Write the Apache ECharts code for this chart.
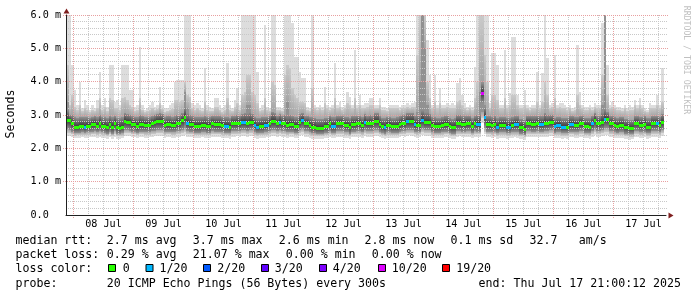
<!DOCTYPE html>
<html>
<head>
<meta charset="utf-8">
<script src="https://cdn.jsdelivr.net/npm/echarts@6.0.0/dist/echarts.min.js"></script>
<style>
html,body{margin:0;padding:0;background:#ffffff;}
#chart{width:697px;height:297px;}
</style>
</head>
<body>
<div id="chart"></div>
<script>
// ---------------- data: hourly buckets from 07 Jul 21:00, values in ms ----------------
const dayLabels = ['08 Jul','09 Jul','10 Jul','11 Jul','12 Jul','13 Jul','14 Jul','15 Jul','16 Jul','17 Jul'];
const yTickLabels = ['0.0  ','1.0 m','2.0 m','3.0 m','4.0 m','5.0 m','6.0 m'];

const medianMs = [
2.85,2.85,2.75,2.65,2.65,2.66,2.67,2.65,2.68,2.68,2.72,2.73,2.68,2.75,2.68,2.67,2.63,2.73,2.63,2.75,
2.63,2.62,2.64,2.83,2.8,2.8,2.73,2.73,2.67,2.73,2.73,2.7,2.7,2.7,2.75,2.78,2.83,2.83,2.83,2.7,
2.73,2.73,2.7,2.7,2.77,2.77,2.85,2.93,2.77,2.73,2.73,2.68,2.68,2.68,2.7,2.7,2.68,2.68,2.75,2.73,
2.72,2.72,2.69,2.68,2.68,2.65,2.75,2.75,2.75,2.75,2.79,2.79,2.75,2.78,2.78,2.7,2.65,2.68,2.68,2.7,
2.7,2.75,2.83,2.83,2.75,2.8,2.75,2.75,2.69,2.73,2.73,2.68,2.68,2.8,2.85,2.75,2.75,2.7,2.65,2.65,
2.62,2.62,2.62,2.67,2.67,2.75,2.68,2.68,2.75,2.75,2.75,2.7,2.7,2.63,2.72,2.72,2.75,2.75,2.7,2.8,
2.75,2.75,2.75,2.83,2.83,2.72,2.67,2.63,2.7,2.7,2.67,2.67,2.67,2.73,2.77,2.77,2.82,2.83,2.83,2.73,
2.7,2.7,2.85,2.8,2.8,2.8,2.7,2.67,2.67,2.67,2.7,2.73,2.73,2.67,2.63,2.63,2.77,2.77,2.73,2.73,
2.75,2.75,2.67,2.75,2.73,2.73,3.65,2.93,2.73,2.73,2.7,2.73,2.65,2.7,2.7,2.7,2.65,2.65,2.7,2.72,
2.72,2.63,2.63,2.57,2.75,2.75,2.72,2.72,2.75,2.73,2.73,2.75,2.75,2.78,2.78,2.67,2.7,2.7,2.65,2.65,
2.65,2.73,2.73,2.7,2.7,2.75,2.75,2.67,2.67,2.65,2.75,2.85,2.75,2.75,2.8,2.89,2.87,2.75,2.75,2.7,
2.67,2.7,2.7,2.63,2.63,2.6,2.6,2.75,2.75,2.7,2.7,2.73,2.65,2.65,2.75,2.75,2.75,2.7,2.8
];

const maxPing = [
6,6,4.5,3.75,3.3,4,3.2,3.45,3.3,3.15,3.3,3.2,3.45,4.3,3.3,3.5,3.25,4.5,4.5,3.4,
3.45,3.3,4.5,4.5,4.5,3.75,3.75,3.25,3.3,5.05,3.3,3.15,3.2,3.3,3.4,3.25,3.3,3.85,3.3,3.2,
3.2,3.3,3.35,4,4.05,4.05,4.05,6,6,6,3.35,3.3,3.35,3.3,3.2,4.4,3.3,3.25,3.2,3.5,
3.5,3.3,3.2,3.3,4.55,3.3,3.2,3.45,3.8,3.3,6,6,6,6,6,6,4.3,3.2,3.3,5.7,
3.25,3.2,6,6,3.25,3.25,3.2,6,6,6,5.75,4.75,4.75,4.3,4.1,4.1,3.25,3.2,6,3.3,
3.25,3.3,3.25,3.85,3.3,3.25,3.3,4.55,3.3,3.4,3.25,3.3,3.7,3.55,3.3,4.95,3.3,3.6,3.3,3.35,
3.35,3.5,3.5,3.3,3.3,3.5,3.25,3.25,3.2,3.3,3.3,3.3,3.3,3.25,3.3,3.3,3.35,3.3,3.35,3.4,
6,6,6,6,5.25,4.2,3.3,4.2,3.3,3.8,3.3,3.3,3.35,3.3,3.35,3.3,3.95,4.1,3.6,3.35,
3.25,3.3,3.25,4.45,6,6,6,6,6,3.35,4.85,4.85,4.5,3.3,3.3,4.95,3.3,3.65,5.35,5.35,
3.6,3.3,3.3,3.75,3.3,3.25,3.3,3.3,4.3,3.3,4.25,6,4.7,3.3,3.35,4.8,3.3,3.35,3.35,3.3,
3.25,3.3,3.2,3.25,5.1,3.7,3.3,3.25,3.25,3.3,3.25,3.35,3.3,3.3,5.75,6,4.5,3.3,3.4,3.3,
3.25,3.25,3.2,3.3,3.2,3.3,3.25,3.45,3.3,3.5,3.3,3.2,3.15,3.35,3.3,3.3,3.6,3.3,4.4
];

const hiOuter = [
4.5,3.3,3.6,3.25,3.15,3.3,3.12,3.2,3.15,3.1,3.15,3.12,3.2,3.5,3.15,3.25,3.12,3.5,3.45,3.2,
3.2,3.15,3.5,3.55,3.45,3.3,3.25,3.12,3.15,3.5,3.15,3.1,3.12,3.15,3.2,3.15,3.18,3.35,3.18,3.1,
3.12,3.15,3.18,3.45,3.45,3.4,3.45,4,3.6,3.55,3.2,3.15,3.2,3.15,3.12,3.4,3.15,3.12,3.12,3.25,
3.25,3.15,3.1,3.15,3.5,3.15,3.12,3.25,3.35,3.15,3.6,3.7,4.2,4.2,3.7,3.6,3.35,3.12,3.15,3.5,
3.15,3.12,4,3.9,3.15,3.15,3.12,4.2,4.5,4.4,3.8,3.6,3.5,3.4,3.4,3.35,3.15,3.12,3.8,3.2,
3.15,3.2,3.15,3.35,3.2,3.15,3.2,3.5,3.2,3.25,3.15,3.2,3.35,3.3,3.2,3.5,3.2,3.3,3.2,3.2,
3.25,3.3,3.3,3.2,3.2,3.3,3.15,3.15,3.12,3.2,3.2,3.2,3.2,3.15,3.2,3.2,3.25,3.2,3.25,3.25,
4.8,6,6,6,4,3.5,3.2,3.4,3.2,3.35,3.2,3.2,3.25,3.2,3.2,3.2,3.4,3.45,3.3,3.2,
3.15,3.2,3.15,3.5,4,6,6,4.8,4,3.2,3.6,3.6,3.45,3.2,3.2,3.5,3.2,3.3,3.6,3.6,
3.3,3.2,3.2,3.3,3.2,3.15,3.2,3.2,3.4,3.2,3.4,4,3.6,3.2,3.25,3.5,3.2,3.25,3.2,3.2,
3.15,3.2,3.12,3.15,3.6,3.3,3.2,3.15,3.15,3.2,3.15,3.25,3.2,3.2,4.2,6,3.6,3.2,3.25,3.2,
3.15,3.15,3.12,3.2,3.12,3.15,3.15,3.3,3.2,3.3,3.2,3.12,3.1,3.2,3.2,3.2,3.3,3.2,3.4
];

const hiInner = [
3.4,3,3,2.95,2.92,2.95,2.93,2.95,2.93,2.92,2.95,2.96,2.93,3,2.94,2.95,2.9,2.98,2.95,2.97,
2.92,2.9,2.95,3.05,3.02,3,2.97,2.95,2.93,3,2.97,2.94,2.94,2.95,2.98,3,3.03,3.05,3.02,2.94,
2.96,2.97,2.95,2.97,3,3,3.05,3.7,3.2,3,2.97,2.93,2.93,2.93,2.95,2.97,2.93,2.93,2.97,2.97,
2.96,2.96,2.93,2.93,2.95,2.9,2.97,2.98,2.99,2.98,3.02,3.05,3.3,3.3,3.02,2.95,2.92,2.92,2.93,2.95,
2.94,2.98,3.1,3.05,2.98,3.02,2.98,3,3.4,3,2.98,2.95,2.93,3.02,3.07,2.98,2.98,2.93,2.95,2.9,
2.88,2.88,2.88,2.92,2.92,2.98,2.93,2.95,2.98,2.98,2.98,2.95,2.95,2.9,2.96,2.98,2.98,2.98,2.95,3.03,
2.98,3,2.98,3.05,3.05,2.96,2.92,2.9,2.94,2.95,2.92,2.92,2.93,2.97,3,3,3.05,3.05,3.05,2.98,
3.1,4,6,5,3.3,3.02,2.95,2.93,2.92,2.92,2.94,2.97,2.97,2.92,2.88,2.9,3,3,2.97,2.97,
2.98,2.98,2.92,2.98,3,3.7,4,3.3,2.98,2.97,2.95,2.97,2.9,2.94,2.94,2.95,2.9,2.9,2.95,2.96,
2.96,2.88,2.88,2.85,2.98,2.98,2.96,2.96,2.98,2.97,2.97,3.05,3,3,3,2.92,2.94,2.94,2.9,2.9,
2.9,2.97,2.97,2.94,2.95,2.98,2.98,2.92,2.92,2.9,2.98,3.05,2.98,2.98,3.3,6,3.08,2.98,2.98,2.94,
2.92,2.94,2.94,2.88,2.88,2.85,2.86,2.98,2.98,2.94,2.94,2.96,2.9,2.9,2.98,2.98,2.98,2.94,3.03
];

const loInner = [
2.58,2.56,2.5,2.45,2.46,2.47,2.48,2.46,2.48,2.49,2.5,2.52,2.48,2.52,2.48,2.47,2.44,2.5,2.44,2.52,
2.44,2.43,2.45,2.55,2.54,2.53,2.5,2.5,2.47,2.5,2.5,2.48,2.48,2.49,2.51,2.53,2.56,2.56,2.55,2.48,
2.5,2.5,2.48,2.48,2.52,2.52,2.56,2.6,2.52,2.5,2.5,2.47,2.47,2.47,2.48,2.48,2.47,2.47,2.52,2.5,
2.5,2.5,2.48,2.47,2.47,2.45,2.52,2.52,2.52,2.52,2.54,2.54,2.52,2.54,2.54,2.49,2.45,2.47,2.47,2.48,
2.48,2.52,2.56,2.56,2.52,2.55,2.52,2.52,2.48,2.5,2.5,2.47,2.47,2.55,2.57,2.52,2.52,2.48,2.45,2.45,
2.43,2.43,2.43,2.46,2.46,2.52,2.47,2.47,2.52,2.52,2.52,2.48,2.48,2.44,2.5,2.5,2.52,2.52,2.48,2.55,
2.52,2.52,2.52,2.56,2.56,2.5,2.46,2.44,2.48,2.48,2.46,2.46,2.46,2.5,2.53,2.53,2.56,2.56,2.56,2.5,
2.48,2.5,2.58,2.55,2.55,2.55,2.48,2.46,2.46,2.46,2.48,2.5,2.5,2.46,2.44,2.44,2.53,2.53,2.5,2.5,
2.52,2.52,2.46,2.52,2.5,2.5,3.1,2.6,2.5,2.5,2.48,2.5,2.45,2.48,2.48,2.48,2.45,2.45,2.48,2.49,
2.49,2.44,2.44,2.4,2.52,2.52,2.5,2.5,2.52,2.5,2.5,2.52,2.52,2.54,2.54,2.46,2.48,2.48,2.45,2.45,
2.45,2.5,2.5,2.48,2.48,2.52,2.52,2.46,2.46,2.45,2.52,2.58,2.52,2.52,2.55,2.6,2.6,2.52,2.52,2.48,
2.46,2.48,2.48,2.44,2.44,2.42,2.42,2.52,2.52,2.48,2.48,2.5,2.45,2.45,2.52,2.52,2.52,2.48,2.55
];

const loOuter = [
2.46,2.45,2.42,2.38,2.39,2.4,2.41,2.39,2.4,2.41,2.42,2.43,2.4,2.43,2.4,2.4,2.37,2.42,2.37,2.43,
2.37,2.36,2.38,2.46,2.45,2.45,2.42,2.42,2.4,2.42,2.42,2.4,2.4,2.41,2.43,2.44,2.46,2.47,2.46,2.4,
2.42,2.42,2.4,2.4,2.43,2.43,2.46,2.48,2.44,2.42,2.42,2.4,2.4,2.4,2.41,2.41,2.4,2.4,2.43,2.42,
2.42,2.42,2.4,2.4,2.4,2.38,2.43,2.43,2.44,2.44,2.45,2.45,2.44,2.45,2.45,2.41,2.38,2.4,2.4,2.41,
2.41,2.43,2.46,2.46,2.43,2.46,2.43,2.43,2.4,2.42,2.42,2.4,2.4,2.46,2.48,2.43,2.43,2.4,2.38,2.38,
2.36,2.36,2.36,2.39,2.39,2.43,2.4,2.4,2.43,2.43,2.43,2.4,2.4,2.37,2.42,2.42,2.43,2.43,2.4,2.46,
2.43,2.43,2.43,2.47,2.47,2.42,2.39,2.37,2.4,2.4,2.39,2.39,2.39,2.42,2.44,2.44,2.47,2.47,2.47,2.42,
2.4,2.42,2.48,2.46,2.46,2.46,2.4,2.39,2.39,2.39,2.4,2.42,2.42,2.39,2.37,2.37,2.44,2.44,2.42,2.42,
2.43,2.43,2.39,2.43,2.42,2.42,2.9,2.5,2.42,2.42,2.4,2.42,2.38,2.4,2.4,2.4,2.38,2.38,2.4,2.41,
2.41,2.37,2.37,2.33,2.43,2.43,2.42,2.42,2.43,2.42,2.42,2.43,2.43,2.45,2.45,2.39,2.4,2.4,2.38,2.38,
2.38,2.42,2.42,2.4,2.4,2.43,2.43,2.39,2.39,2.38,2.43,2.48,2.43,2.43,2.46,2.5,2.5,2.43,2.43,2.4,
2.39,2.4,2.4,2.37,2.37,2.35,2.35,2.43,2.43,2.4,2.4,2.42,2.38,2.38,2.43,2.43,2.43,2.4,2.46
];

const minPing = [
2.38,2.37,2.33,2.3,2.31,2.32,2.33,2.3,2.32,2.33,2.34,2.35,2.31,2.34,2.32,2.31,2.28,2.33,2.29,2.35,
2.28,2.28,2.3,2.37,2.36,2.36,2.34,2.33,2.31,2.34,2.34,2.32,2.32,2.33,2.35,2.36,2.38,2.38,2.37,2.31,
2.33,2.34,2.32,2.31,2.35,2.35,2.37,2.39,2.35,2.33,2.34,2.31,2.31,2.32,2.33,2.32,2.31,2.31,2.35,2.33,
2.34,2.33,2.31,2.31,2.32,2.29,2.35,2.35,2.36,2.35,2.37,2.36,2.35,2.37,2.36,2.32,2.29,2.31,2.31,2.32,
2.33,2.35,2.38,2.37,2.34,2.37,2.34,2.35,2.31,2.34,2.33,2.31,2.31,2.37,2.39,2.35,2.34,2.31,2.29,2.29,
2.27,2.27,2.28,2.3,2.31,2.35,2.31,2.32,2.35,2.34,2.35,2.31,2.32,2.28,2.33,2.34,2.35,2.34,2.31,2.37,
2.34,2.35,2.34,2.38,2.38,2.33,2.3,2.28,2.32,2.31,2.3,2.31,2.3,2.33,2.36,2.35,2.38,2.39,2.38,2.33,
2.31,2.33,2.39,2.37,2.38,2.37,2.31,2.3,2.31,2.3,2.32,2.34,2.33,2.3,2.28,2.29,2.35,2.36,2.33,2.34,
2.35,2.34,2.3,2.35,2.33,2.33,2.75,2.42,2.33,2.34,2.32,2.33,2.29,2.31,2.32,2.31,2.29,2.3,2.31,2.33,
2.32,2.28,2.29,2.25,2.35,2.34,2.33,2.34,2.35,2.33,2.34,2.35,2.34,2.37,2.36,2.3,2.32,2.31,2.29,2.3,
2.29,2.34,2.33,2.31,2.32,2.35,2.34,2.3,2.31,2.29,2.35,2.4,2.35,2.34,2.37,2.41,2.41,2.35,2.34,2.31,
2.3,2.31,2.32,2.28,2.29,2.26,2.27,2.35,2.34,2.31,2.32,2.33,2.29,2.3,2.35,2.34,2.35,2.31,2.38
];

// hours (bucket index) with packet loss, and lost pings out of 20
const lossHours  = [7,48,63,64,70,71,75,76,79,80,85,94,106,107,119,127,136,139,142,164,165,166,167,172,176,177,179,180,189,190,195,196,197,198,199,201,202,210,215,236];
const lossCounts = [1,1,1,1,1,1,1,1,1,1,1,1,1,1,1,1,1,1,1,1,1,10,1,1,1,1,1,1,1,1,1,1,1,1,1,1,1,1,1,1];

const lossLegendLabels = ['0','1/20','2/20','3/20','4/20','10/20','19/20'];
const lossThresholds   = [0,1,2,3,4,10,19];
const lossLegendColors = ['#26ff00','#00b8ff','#0059ff','#5e00ff','#7e00ff','#dd00ff','#ff0000'];

const statsRtt  = ['median rtt:','2.7 ms avg','3.7 ms max','2.6 ms min','2.8 ms now','0.1 ms sd','32.7','am/s'];
const statsLoss = ['packet loss:','0.29 % avg','21.07 % max','0.00 % min','0.00 % now'];
const probeText = ['probe:','20 ICMP Echo Pings (56 Bytes) every 300s'];
const endText   = 'end: Thu Jul 17 21:00:12 2025';
const yAxisTitle = 'Seconds';
const watermark  = 'RRDTOOL / TOBI OETIKER';

// ---------------- layout / style ----------------
const MONO = 'DejaVu Sans Mono';
const SPAN_HOURS = 240;           // 07 Jul 21:00 .. 17 Jul 21:00
const FIRST_MIDNIGHT = 3;         // 08 Jul 00:00
const RED = '#e8a0a0', GRAY = '#c8c8c8';

const N = medianMs.length;
const lossPerHour = new Array(N).fill(0);
lossHours.forEach((h, k) => { lossPerHour[h] = lossCounts[k]; });
function lossColor(n) {
  let c = lossLegendColors[0];
  lossThresholds.forEach((t, k) => { if (n >= t) c = lossLegendColors[k]; });
  return c;
}

const smokeData = medianMs.map((m, i) => [i, minPing[i], loOuter[i], loInner[i], m, hiInner[i], hiOuter[i], maxPing[i]]);
const medData = medianMs.map((m, i) => [i, m, lossPerHour[i]]);
const gridHours = []; for (let h = FIRST_MIDNIGHT; h < SPAN_HOURS; h += 6) gridHours.push(h);
const gridLevels = []; for (let k = 1; k <= 30; k++) gridLevels.push(+(k * 0.2).toFixed(1));

const chart = echarts.init(document.getElementById('chart'), null, {renderer: 'canvas'});

function grad(c1, c2) {
  return new echarts.graphic.LinearGradient(0, 0, 0, 1, [{offset: 0, color: c1}, {offset: 1, color: c2}]);
}
function ggrad(y1, y2, c1, c2) {
  return new echarts.graphic.LinearGradient(0, y1, 0, y2, [{offset: 0, color: c1}, {offset: 1, color: c2}], true);
}

function smokeItem(params, api) {
  const i = api.value(0);
  const xa = Math.round(api.coord([i, 0])[0]);
  const xb = Math.round(api.coord([i + 1, 0])[0]);
  const Y = v => Math.round(api.coord([0, Math.min(v, 6)])[1]);
  const v = [1, 2, 3, 4, 5, 6, 7].map(k => api.value(k));
  const [mn, l1, l2, md, h2, h1, mx] = v;
  const w = xb - xa;
  const rect = (top, bot, fill) => {
    const yt = Y(top), yb = Y(bot);
    return {type: 'rect', shape: {x: xa, y: yt, width: w, height: Math.max(0, yb - yt)}, style: {fill}};
  };
  const ym = Y(md);
  const yUp = Math.max(Y(h2), ym - 10);
  const yDn = Math.min(Y(l2), ym + 10);
  return {type: 'group', children: [
    rect(mx, mn, '#dddddd'),
    rect(h1, h2, grad('#cacaca', '#a4a4a4')),
    rect(l2, l1, grad('#a4a4a4', '#cacaca')),
    rect(h2, md, ggrad(yUp, ym, '#919191', '#383838')),
    rect(md, l2, ggrad(ym, yDn, '#383838', '#919191'))
  ]};
}

function medItem(params, api) {
  const i = api.value(0);
  const xa = Math.round(api.coord([i, 0])[0]);
  const xb = Math.round(api.coord([i + 1, 0])[0]);
  const y = Math.round(api.coord([0, api.value(1)])[1]);
  return {type: 'rect', shape: {x: xa, y: y - 1, width: xb - xa, height: 3}, style: {fill: lossColor(api.value(2))}};
}

function gridVItem(params, api) {
  const h = api.value(0);
  const x = Math.floor(api.coord([h, 0])[0]) + 0.5;
  const yb = api.coord([h, 0])[1];
  const yt = api.coord([h, 6])[1];
  const major = (h - FIRST_MIDNIGHT) % 24 === 0;
  return {type: 'line', shape: {x1: x, y1: Math.floor(yt), x2: x, y2: Math.floor(yb) + (major ? 3 : 0)},
    style: {stroke: major ? RED : GRAY, lineWidth: 1, lineDash: [1, 1]}};
}

function gridHItem(params, api) {
  const v = api.value(1);
  const y = Math.floor(api.coord([0, v])[1]) + 0.5;
  const xl = api.coord([0, v])[0];
  const xr = api.coord([SPAN_HOURS, v])[0];
  const major = Math.abs(v - Math.round(v)) < 1e-6;
  return {type: 'line', shape: {x1: Math.floor(xl) + (major ? -3 : 0), y1: y, x2: Math.floor(xr) + 2, y2: y},
    style: {stroke: major ? RED : GRAY, lineWidth: 1, lineDash: [1, 1]}};
}

// legend / annotation graphics
const graphics = [];
function txt(x, y, text, o = {}) {
  const el = {type: 'text', x, y, silent: true, z: 100,
    style: {text, fontFamily: MONO, fontSize: o.size || 11.6, fill: o.color || '#000000',
      align: o.align || 'left', verticalAlign: 'middle'}};
  if (o.rotation != null) el.rotation = o.rotation;
  return el;
}
const rttX = [15.5, 106.8, 192.8, 278.8, 364.5, 450.5, 529.5, 578.8];
statsRtt.forEach((t, k) => graphics.push(txt(rttX[k], 241, t)));
const lossX = [15.5, 106.8, 192.8, 285.8, 371.8];
statsLoss.forEach((t, k) => graphics.push(txt(lossX[k], 255, t)));
graphics.push(txt(15.5, 269, 'loss color:'));
const sqX = [108.5, 146, 203.5, 261.5, 319.5, 378.5, 442.5];
const lblX = [122.8, 159.5, 217.2, 274.8, 332.8, 391.8, 456.2];
lossLegendLabels.forEach((t, k) => {
  graphics.push({type: 'rect', silent: true, z: 100, shape: {x: sqX[k], y: 264.5, width: 7, height: 7},
    style: {fill: lossLegendColors[k], stroke: '#000000', lineWidth: 1}});
  graphics.push(txt(lblX[k], 269, t));
});
graphics.push(txt(15.5, 283.5, probeText[0]));
graphics.push(txt(106.8, 283.5, probeText[1]));
graphics.push(txt(681, 283.5, endText, {align: 'right'}));
graphics.push(txt(10.5, 114, yAxisTitle, {rotation: Math.PI / 2, align: 'center'}));
graphics.push(txt(686, 60, watermark, {rotation: -Math.PI / 2, align: 'center', size: 8.2, color: '#c0c0c0'}));
// axis arrows
graphics.push({type: 'polygon', silent: true, z: 100, shape: {points: [[66.5, 8.5], [63.5, 13.5], [69.5, 13.5]]}, style: {fill: '#7f1f1f'}});
graphics.push({type: 'polygon', silent: true, z: 100, shape: {points: [[673.5, 215.5], [668.5, 212.5], [668.5, 218.5]]}, style: {fill: '#7f1f1f'}});

const option = {
  animation: false,
  backgroundColor: '#ffffff',
  grid: {left: 66, top: 15, width: 600, height: 200, containLabel: false},
  xAxis: {
    type: 'value', min: 0, max: SPAN_HOURS, interval: 3, z: 10,
    axisLine: {show: true, lineStyle: {color: '#202020', width: 1}},
    axisTick: {show: false},
    splitLine: {show: false},
    axisLabel: {
      show: true, margin: 4, color: '#000000', fontFamily: MONO, fontSize: 10.15,
      showMinLabel: true, showMaxLabel: true,
      formatter: v => {
        const k = (v - FIRST_MIDNIGHT - 12) / 24;
        return (Number.isInteger(k) && k >= 0 && k < dayLabels.length) ? dayLabels[k] : '';
      }
    }
  },
  yAxis: {
    type: 'value', min: 0, max: 6, interval: 1, z: 10,
    axisLine: {show: true, lineStyle: {color: '#202020', width: 1}},
    axisTick: {show: false},
    splitLine: {show: false},
    axisLabel: {show: true, margin: 5, color: '#000000', fontFamily: MONO, fontSize: 10.15,
      formatter: v => yTickLabels[Math.round(v)]}
  },
  series: [
    {type: 'custom', name: 'smoke', silent: true, z: 1, renderItem: smokeItem, data: smokeData,
      encode: {x: 0, y: [1, 7]}},
    {type: 'custom', name: 'gridV', silent: true, z: 2, renderItem: gridVItem,
      data: gridHours.map(h => [h, 0]), encode: {x: 0, y: 1}},
    {type: 'custom', name: 'gridH', silent: true, z: 2, renderItem: gridHItem,
      data: gridLevels.map(v => [0, v]), encode: {x: 0, y: 1}},
    {type: 'custom', name: 'median', silent: true, z: 3, renderItem: medItem, data: medData,
      encode: {x: 0, y: 1}}
  ],
  graphic: graphics
};
chart.setOption(option);
</script>
</body>
</html>
